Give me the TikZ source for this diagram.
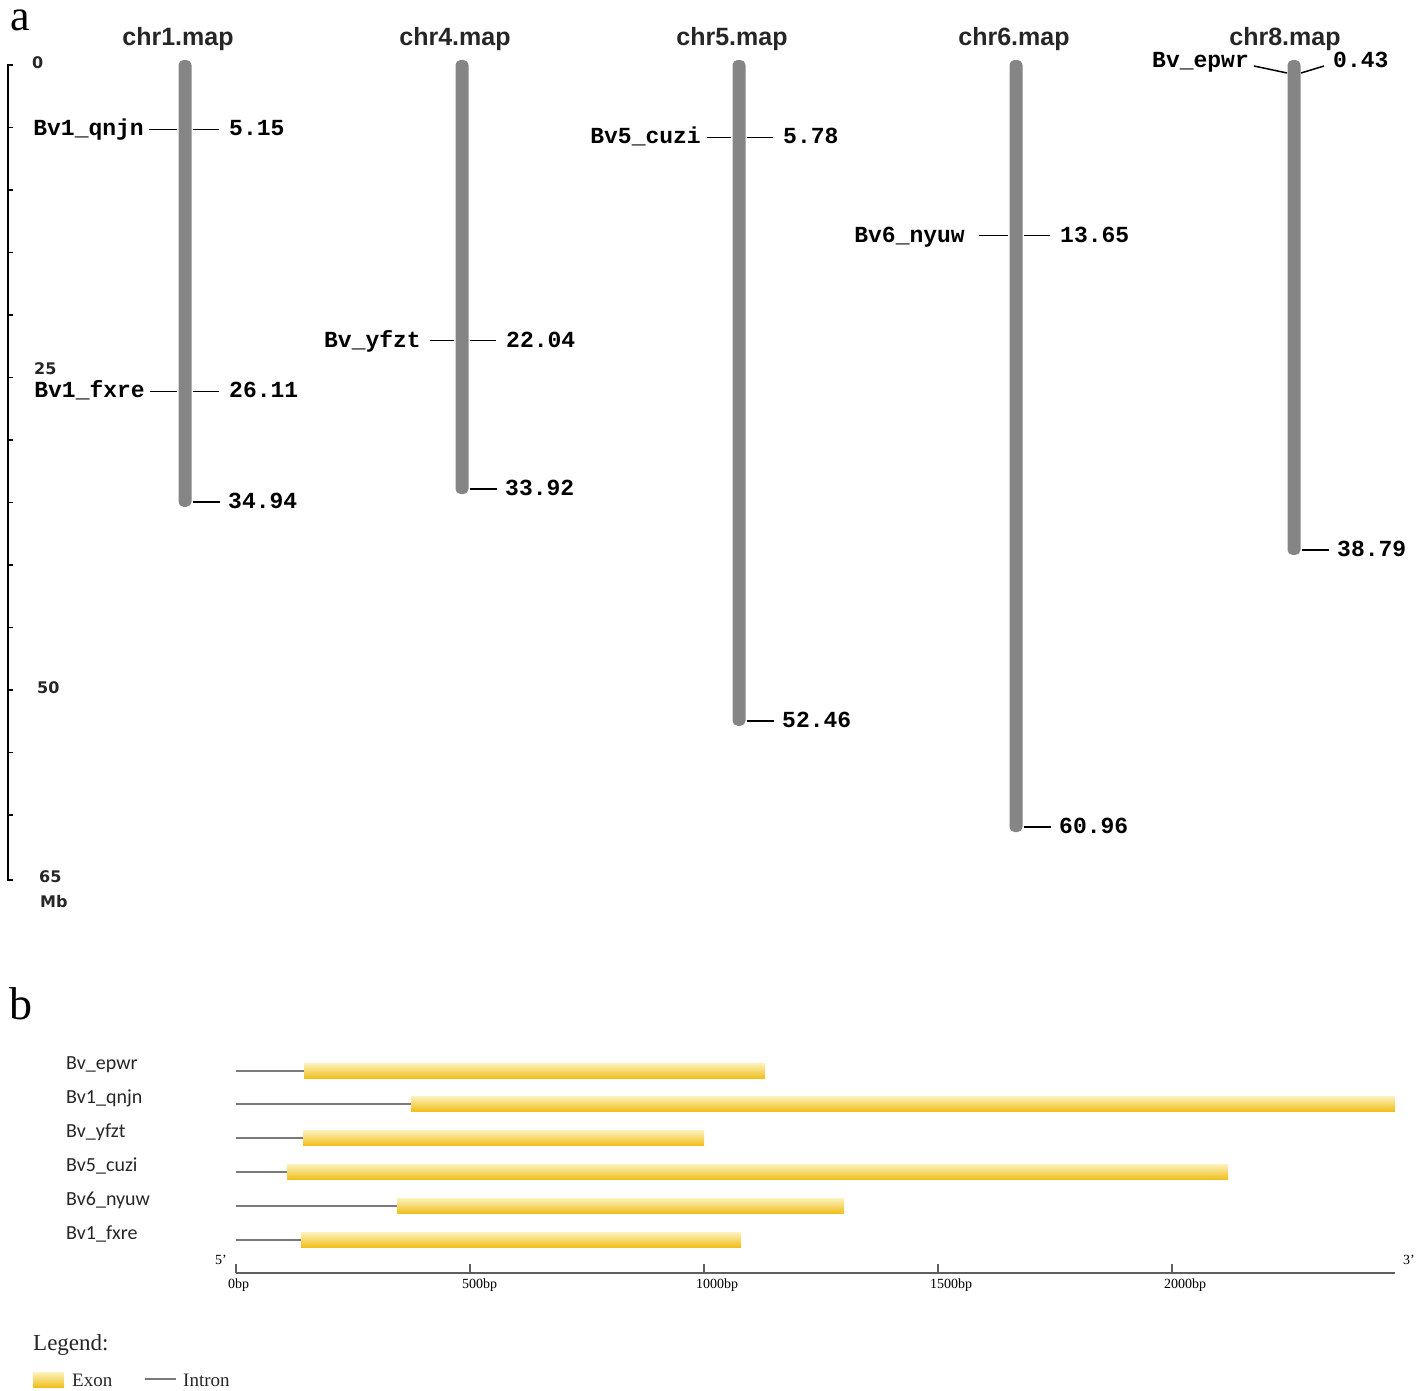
\documentclass[tikz,border=0pt]{standalone}
\usepackage{fontspec}
\setmainfont{Liberation Serif}
\setsansfont{Liberation Sans}
\setmonofont{Liberation Mono}
\newfontfamily\dejab{DejaVu Sans}
\newfontfamily\carl{Carlito}
\definecolor{chrgray}{HTML}{858585}
\definecolor{exT}{HTML}{FDF2BE}
\definecolor{exB}{HTML}{F0C01E}
\definecolor{intr}{HTML}{7A7A7A}
\definecolor{axg}{HTML}{5E5E5E}
\begin{document}
\begin{tikzpicture}[x=1pt,y=-1pt,
  mk/.style={font=\ttfamily\bfseries\fontsize{23}{23}\selectfont, inner sep=0pt, text height=13pt, text depth=0pt},
  mkline/.style={line width=1.5pt, black},
  ttl/.style={font=\sffamily\bfseries\fontsize{25}{25}\selectfont, inner sep=0pt, text=black!85},
  sc/.style={font=\dejab\bfseries\fontsize{16}{16}\selectfont, inner sep=0pt, text=black!85},
  gl/.style={font=\carl\fontsize{20}{20}\selectfont, inner sep=0pt, text=black!85},
  intron/.style={intr, line width=2.6pt},
  axl/.style={font=\fontsize{14}{14}\selectfont, inner sep=0pt},
  bigl/.style={font=\fontsize{44}{44}\selectfont, inner sep=0pt, text height=21pt, text depth=0pt},
  leg/.style={font=\fontsize{19}{19}\selectfont, inner sep=0pt, text=black!85}
]
\useasboundingbox (0,0) rectangle (1418,1390);
\node[bigl, anchor=base west] (la) at (10,30) {a};
\node[bigl, anchor=base west, text height=31pt, font=\fontsize{46}{46}\selectfont] (lb) at (9,1019) {b};

% scale bar
\draw[line width=2pt] (13,65) -- (8,65) -- (8,880) -- (13,880);
\foreach \k in {1,...,12} \draw[line width=1.2pt] (8,{65+62.5*\k}) -- (13,{65+62.5*\k});
\node[sc, anchor=west] (s0) at (32,63) {0};
\node[sc, anchor=west] (s25) at (34,369) {25};
\node[sc, anchor=west] (s50) at (37,688) {50};
\node[sc, anchor=west] (s65) at (39,877) {65};
\node[sc, anchor=west] (smb) at (40,902) {Mb};

% chromosomes
\foreach \c/\len/\nm/\tx in {185/34.94/chr1/178, 462/33.92/chr4/455, 739/52.46/chr5/732, 1016/60.96/chr6/1014, 1294/38.79/chr8/1285} {
  \pgfmathsetmacro\yb{65+12.5*\len}
  \fill[chrgray, rounded corners=5pt] (\c-6.5,60) rectangle (\c+6.5,\yb+5);
  \coordinate (\nm top) at (\c,60);
  \node[ttl] (t\nm) at (\tx,39) {\nm.map};
  \coordinate (e\nm a) at (\c+8,\yb);
  \coordinate (e\nm b) at (\c+35,\yb);
  \draw[mkline] (e\nm a) -- (e\nm b);
  \node[mk, anchor=west] (end\nm) at (\c+43,\yb) {\len};
}

% markers with left labels
\foreach \c/\mb/\lab/\nm/\lo/\ls in {185/5.15/Bv1\_qnjn/q/41/36, 185/26.11/Bv1\_fxre/f/40/35, 462/22.04/Bv\_yfzt/y/41/32, 739/5.78/Bv5\_cuzi/c/38/32, 1016/13.65/Bv6\_nyuw/n/51/37} {
  \pgfmathsetmacro\ym{65+12.5*\mb}
  \node[mk, anchor=east] (L\nm) at (\c-\lo,\ym) {\lab};
  \coordinate (la\nm) at (\c-\ls,\ym);
  \coordinate (lb\nm) at (\c-8,\ym);
  \coordinate (ra\nm) at (\c+8,\ym);
  \coordinate (rb\nm) at (\c+34,\ym);
  \draw[mkline] (la\nm) -- (lb\nm);
  \draw[mkline] (ra\nm) -- (rb\nm);
  \node[mk, anchor=west] (R\nm) at (\c+44,\ym) {\mb};
}

% chr8 marker 0.43
\node[mk, anchor=east] (Le) at (1249,61) {Bv\_epwr};
\node[mk, anchor=west] (Re) at (1333,61) {0.43};
\coordinate (ea) at (1254,66); \coordinate (eb) at (1287,73);
\coordinate (ec) at (1301,73); \coordinate (ed) at (1324,66);
\draw[mkline] (ea) -- (eb);
\draw[mkline] (ec) -- (ed);

% part b genes
\foreach \y/\s/\e/\lab [count=\i] in {1071/304/765/Bv\_epwr, 1104/411/1395/Bv1\_qnjn, 1138/303/704/Bv\_yfzt, 1172/287/1228/Bv5\_cuzi, 1206/397/844/Bv6\_nyuw, 1240/301/741/Bv1\_fxre} {
  \node[gl, anchor=west] (g\i) at (66,\y-6) {\lab};
  \coordinate (is\i) at (236,\y);
  \coordinate (ie\i) at (\s,\y);
  \draw[intron] (is\i) -- (ie\i);
  \shade[top color=exT, bottom color=exB] (\s,\y-8) rectangle (\e,\y+7);
}

% axis
\coordinate (ax0) at (236,1273);
\coordinate (ax1) at (1395,1273);
\draw[axg, line width=2.5pt] (ax0) -- (ax1);
\foreach \t/\lab in {236/0bp, 470/500bp, 704/1000bp, 938/1500bp, 1172/2000bp} {
  \draw[axg, line width=1.2pt] (\t,1264) -- (\t,1273);
  \node[axl, anchor=north west] at (\t-8,1279) {\lab};
}
\node[axl, anchor=west] (p5) at (215,1260) {5'};
\node[axl, anchor=west] (p3) at (1403,1260) {3'};

% legend
\node[font=\fontsize{23}{23}\selectfont, inner sep=0pt, anchor=west, text=black!85] (lg) at (33,1345) {Legend:};
\shade[top color=exT, bottom color=exB] (33,1372) rectangle (64,1387);
\node[leg, anchor=west] (lex) at (72,1380) {Exon};
\coordinate (li0) at (145,1379); \coordinate (li1) at (176,1379);
\draw[intron] (li0) -- (li1);
\node[leg, anchor=west] (lin) at (183,1380) {Intron};
\end{tikzpicture}
\end{document}
